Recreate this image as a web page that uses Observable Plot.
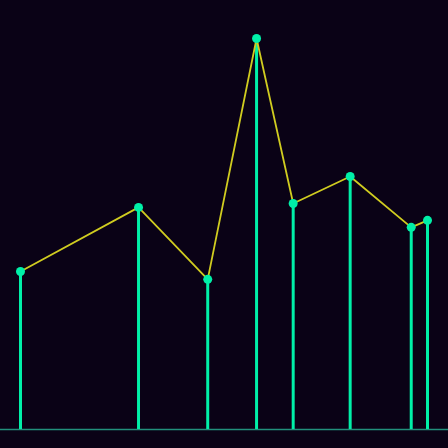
<!DOCTYPE html>
<html>
<head>
<meta charset="utf-8">
<script src="https://cdn.jsdelivr.net/npm/d3@7"></script>
<script src="https://cdn.jsdelivr.net/npm/@observablehq/plot@0.6"></script>
<style>
  html, body { margin: 0; padding: 0; background: #0a0216; }
  #chart svg { display: block; }
</style>
</head>
<body>
<div id="chart"></div>
<script>
const xs = [0, 29, 46, 58, 67, 81, 96, 100];
const values = [40.4, 56.8, 38.4, 100, 57.8, 64.7, 51.7, 53.5];
const data = xs.map((x, i) => ({x, y: values[i]}));

const chart = Plot.plot({
  width: 448,
  height: 448,
  marginLeft: 20,
  marginRight: 21,
  marginTop: 38,
  marginBottom: 19,
  style: {background: "#0a0216"},
  x: {domain: [0, 100], axis: null},
  y: {domain: [0, 100], axis: null},
  marks: [
    Plot.ruleY([0], {x1: -5, x2: 110, stroke: "#22907c", strokeWidth: 1.5, clip: false}),
    Plot.ruleX(data, {x: "x", y1: 0, y2: "y", stroke: "#00f0a8", strokeWidth: 3}),
    Plot.line(data, {x: "x", y: "y", stroke: "#d0cc20", strokeWidth: 1.8}),
    Plot.dot(data, {x: "x", y: "y", r: 4.5, fill: "#00f0a8", stroke: "none"})
  ]
});
document.getElementById("chart").appendChild(chart);
</script>
</body>
</html>
